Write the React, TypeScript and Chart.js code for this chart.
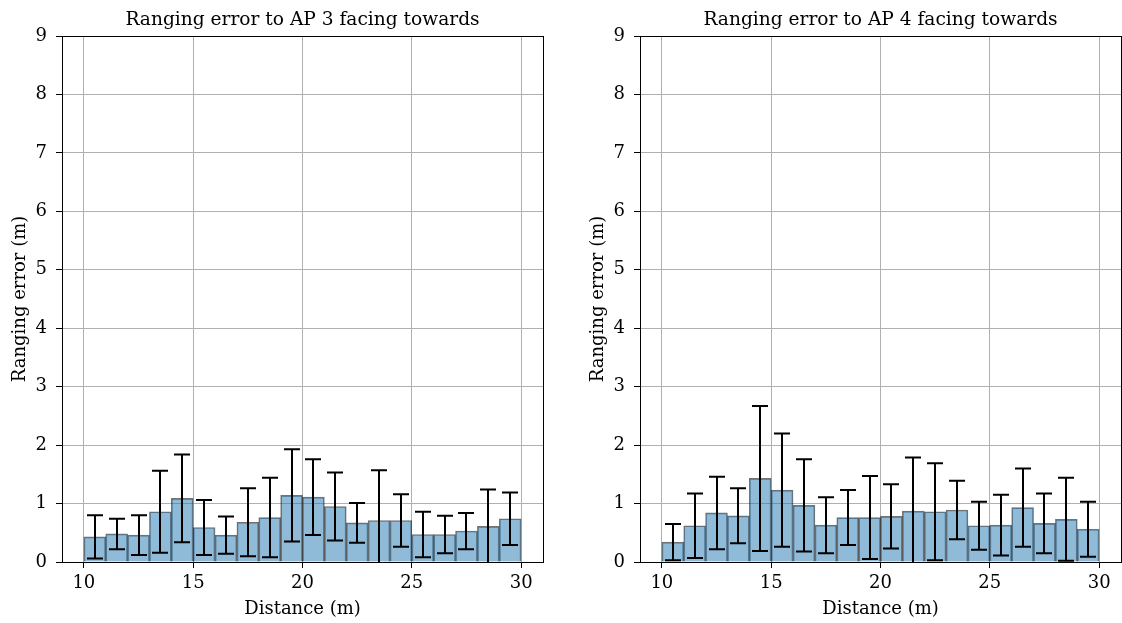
import React, { useEffect, useRef } from "react";
import { Chart, registerables } from "chart.js";

Chart.register(...registerables);

// ---- data ----
const binStarts = [10, 11, 12, 13, 14, 15, 16, 17, 18, 19, 20, 21, 22, 23, 24, 25, 26, 27, 28, 29];
const binWidth = 1;
const xTicks = [10, 15, 20, 25, 30];
const yTicks = [0, 1, 2, 3, 4, 5, 6, 7, 8, 9];

const ap3Mean = [0.43, 0.48, 0.46, 0.86, 1.09, 0.59, 0.46, 0.68, 0.76, 1.14, 1.11, 0.95, 0.67, 0.71, 0.71, 0.47, 0.47, 0.53, 0.61, 0.74];
const ap3Std = [0.37, 0.26, 0.34, 0.7, 0.75, 0.47, 0.32, 0.58, 0.68, 0.79, 0.65, 0.58, 0.34, 0.86, 0.45, 0.39, 0.32, 0.31, 0.63, 0.45];

const ap4Mean = [0.34, 0.62, 0.84, 0.79, 1.43, 1.23, 0.97, 0.63, 0.76, 0.76, 0.78, 0.87, 0.86, 0.89, 0.62, 0.63, 0.93, 0.66, 0.73, 0.56];
const ap4Std = [0.31, 0.55, 0.62, 0.47, 1.24, 0.97, 0.79, 0.48, 0.47, 0.71, 0.55, 0.92, 0.83, 0.5, 0.41, 0.52, 0.67, 0.51, 0.71, 0.47];

const titles = ["Ranging error to AP 3 facing towards", "Ranging error to AP 4 facing towards"];
const xLabel = "Distance (m)";
const yLabel = "Ranging error (m)";

const FONT = "DejaVu Serif";
const FS = 18;
const TITLE_FS = 18.6;

function makeChart(canvas: HTMLCanvasElement, title: string, means: number[], stds: number[], padRight: number) {
  const errorBars = {
    id: "errorBars",
    afterDatasetsDraw(chart: any) {
      const meta = chart.getDatasetMeta(0);
      const ys = chart.scales.y;
      const ctx = chart.ctx;
      const a = chart.chartArea;
      ctx.save();
      ctx.beginPath();
      ctx.rect(a.left, a.top, a.right - a.left, a.bottom - a.top);
      ctx.clip();
      ctx.strokeStyle = "#000";
      ctx.lineWidth = 2;
      meta.data.forEach((el: any, i: number) => {
        const x = Math.round(el.x);
        const yTop = ys.getPixelForValue(means[i] + stds[i]);
        const yBot = ys.getPixelForValue(means[i] - stds[i]);
        ctx.beginPath();
        ctx.moveTo(x, yTop);
        ctx.lineTo(x, yBot);
        ctx.moveTo(x - 8, yTop);
        ctx.lineTo(x + 8, yTop);
        ctx.moveTo(x - 8, yBot);
        ctx.lineTo(x + 8, yBot);
        ctx.stroke();
      });
      ctx.restore();
    },
  };
  const spinesAndTitle = {
    id: "spinesAndTitle",
    afterDraw(chart: any) {
      const a = chart.chartArea;
      const ctx = chart.ctx;
      ctx.save();
      ctx.strokeStyle = "#000";
      ctx.lineWidth = 1;
      ctx.strokeRect(Math.round(a.left) + 0.5, Math.round(a.top) + 0.5, Math.round(a.right - a.left), Math.round(a.bottom - a.top));
      ctx.fillStyle = "#000";
      ctx.font = `${TITLE_FS}px "${FONT}"`;
      ctx.textAlign = "center";
      ctx.textBaseline = "middle";
      ctx.fillText(title, (a.left + a.right) / 2, 20);
      ctx.restore();
    },
  };

  return new Chart(canvas, {
    type: "bar",
    data: {
      datasets: [
        {
          data: binStarts.map((b, i) => ({ x: b + binWidth / 2, y: means[i] })),
          backgroundColor: "rgba(31,119,180,0.5)",
          borderColor: "rgba(0,0,0,0.55)",
          borderWidth: 1,
          barPercentage: 1,
          categoryPercentage: 1,
        },
      ],
    },
    options: {
      responsive: false,
      animation: false,
      devicePixelRatio: 1,
      layout: { padding: { left: 0, right: padRight, top: 36, bottom: 0 } },
      plugins: {
        legend: { display: false },
        tooltip: { enabled: false },
        title: { display: false },
      },
      scales: {
        x: {
          type: "linear",
          min: 9,
          max: 31,
          offset: false,
          afterBuildTicks: (s: any) => {
            s.ticks = xTicks.map((v) => ({ value: v }));
          },
          afterFit: (s: any) => {
            s.height = 61;
          },
          grid: { color: "#b0b0b0", lineWidth: 1, tickLength: 6, tickColor: "#000", offset: false },
          border: { display: false },
          ticks: { color: "#000", font: { family: FONT, size: FS }, padding: 5, maxRotation: 0 },
          title: { display: true, text: xLabel, color: "#000", font: { family: FONT, size: FS }, padding: { top: 0, bottom: 3 } },
        },
        y: {
          type: "linear",
          min: 0,
          max: 9,
          afterBuildTicks: (s: any) => {
            s.ticks = yTicks.map((v) => ({ value: v }));
          },
          afterFit: (s: any) => {
            s.width = 62;
          },
          grid: { color: "#b0b0b0", lineWidth: 1, tickLength: 6, tickColor: "#000" },
          border: { display: false },
          ticks: { color: "#000", font: { family: FONT, size: FS }, padding: 9 },
          title: { display: true, text: yLabel, color: "#000", font: { family: FONT, size: FS }, padding: { top: 10, bottom: 0 } },
        },
      },
    } as any,
    plugins: [errorBars, spinesAndTitle],
  });
}

export default function App() {
  const leftRef = useRef<HTMLCanvasElement>(null);
  const rightRef = useRef<HTMLCanvasElement>(null);

  useEffect(() => {
    const c1 = makeChart(leftRef.current!, titles[0], ap3Mean, ap3Std, 18);
    const c2 = makeChart(rightRef.current!, titles[1], ap4Mean, ap4Std, 1);
    return () => {
      c1.destroy();
      c2.destroy();
    };
  }, []);

  return (
    <div style={{ position: "fixed", left: 0, top: 0, width: 1122, height: 623, background: "#fff" }}>
      <canvas ref={leftRef} width={561} height={623} style={{ position: "absolute", left: 0, top: 0, width: 561, height: 623 }} />
      <canvas ref={rightRef} width={544} height={623} style={{ position: "absolute", left: 578, top: 0, width: 544, height: 623 }} />
    </div>
  );
}
